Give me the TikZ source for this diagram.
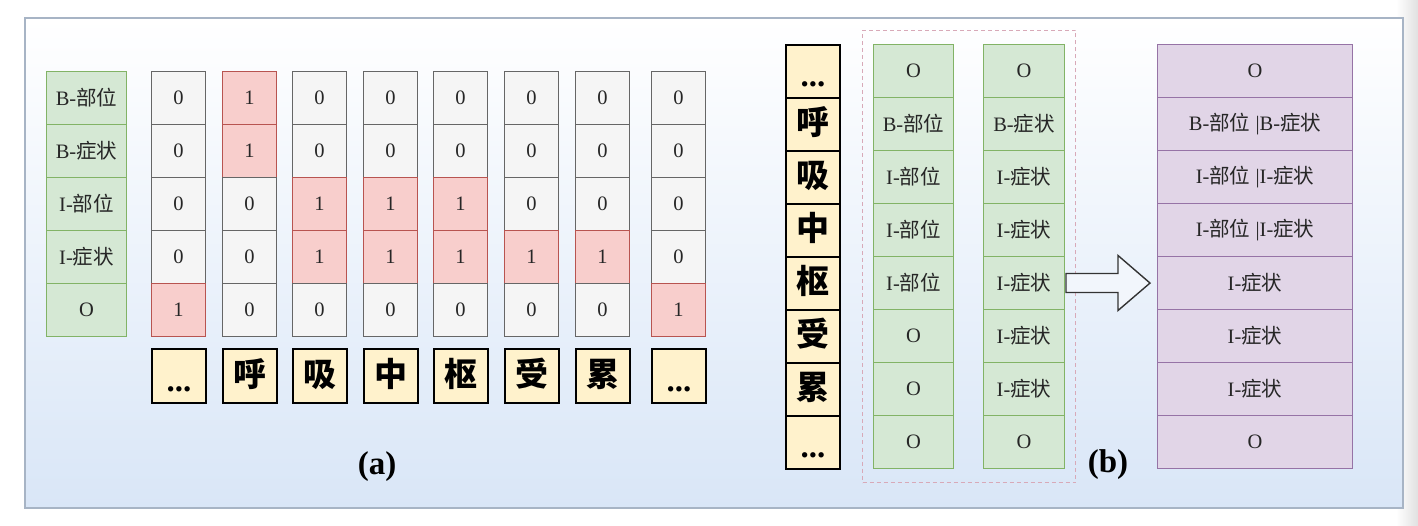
\documentclass[tikz,border=0pt]{standalone}
\usepackage{fontspec}
\setmainfont{Liberation Serif}
\newfontfamily\cjk{Noto Sans CJK SC}
\usetikzlibrary{calc,fit}
\definecolor{gfill}{HTML}{D5E8D4}
\definecolor{gdraw}{HTML}{82B366}
\definecolor{wfill}{HTML}{F5F5F5}
\definecolor{wdraw}{HTML}{666666}
\definecolor{pfill}{HTML}{F8CECC}
\definecolor{pdraw}{HTML}{B85450}
\definecolor{yfill}{HTML}{FFF2CC}
\definecolor{ufill}{HTML}{E1D5E7}
\definecolor{udraw}{HTML}{9673A6}
\definecolor{txt}{HTML}{262626}
\definecolor{dcol}{HTML}{D8A9B8}
\definecolor{frm}{HTML}{A7B4C5}
\definecolor{bgbot}{HTML}{D9E6F7}
\definecolor{afill}{HTML}{F2F6FC}
\newcommand\zh[1]{{\cjk #1}}
\newcommand\dd{\raisebox{-5pt}{\rmfamily\bfseries ...}}
\tikzset{
  cellfont/.style={font=\fontsize{20.5}{22}\selectfont, text=txt},
  lab/.style={cellfont, draw=gdraw, fill=gfill, line width=1, minimum width=80,
    minimum height=53, inner sep=0, anchor=north west},
  cell/.style={cellfont, line width=1.1, minimum width=54, minimum height=53,
    inner sep=0, anchor=north west},
  chbox/.style={draw=black, fill=yfill, line width=1.8, minimum width=54,
    minimum height=54, inner sep=0, anchor=north west, text=black,
    font=\cjk\bfseries\fontsize{33}{33}\selectfont, text height=25pt, text depth=4pt},
  ucell/.style={cellfont, draw=udraw, fill=ufill, line width=1.1, minimum width=195,
    minimum height=53, inner sep=0, anchor=north west},
  caption/.style={font=\bfseries\fontsize{33}{33}\selectfont, text=black},
  arrowst/.style={draw=black!80, fill=afill, line width=1.4, line join=miter}
}
\begin{document}
\begin{tikzpicture}[x=1pt,y=-1pt]
\useasboundingbox (0,0) rectangle (1418,526);
% right grey strip
\shade[left color=white, right color=black!12] (1396,0) rectangle (1418,526);
% frame
\shade[top color=white, bottom color=bgbot] (25,18) rectangle (1403,508);
\draw[frm, line width=1.8] (25,18) rectangle (1403,508);

% ---------- part (a) ----------
\foreach \t [count=\i from 0] in {B-\zh{部位},B-\zh{症状},I-\zh{部位},I-\zh{症状},O}
  \node[lab] (la\i) at (46,71+53*\i) {\t};

\foreach \x/\vals/\ch [count=\c] in {151/{0,0,0,0,1}/\dd, 222/{1,1,0,0,0}/呼,
    292/{0,0,1,1,0}/吸, 363/{0,0,1,1,0}/中, 433/{0,0,1,1,0}/枢,
    504/{0,0,0,1,0}/受, 575/{0,0,0,1,0}/累, 651/{0,0,0,0,1}/\dd}{
  \foreach \v [count=\r from 0] in \vals {
    \ifnum\v=1 \def\cf{pfill}\def\cd{pdraw}\else\def\cf{wfill}\def\cd{wdraw}\fi
    \node[cell, fill=\cf, draw=\cd] (v\c-\r) at (\x,71+53*\r) {\v};
  }
  \node[chbox] (ca\c) at (\x,348) {\ch};
}
\node[caption] (capa) at (377,467) {(a)};

% ---------- part (b) ----------
\foreach \ch [count=\i from 0] in {\dd,呼,吸,中,枢,受,累,\dd}
  \node[chbox, minimum height=53] (cb\i) at (785,44+53*\i) {\ch};

\foreach \t [count=\i from 0] in {O,B-\zh{部位},I-\zh{部位},I-\zh{部位},I-\zh{部位},O,O,O}
  \node[lab] (ga\i) at (873,44+53*\i) {\t};
\foreach \t [count=\i from 0] in {O,B-\zh{症状},I-\zh{症状},I-\zh{症状},I-\zh{症状},I-\zh{症状},I-\zh{症状},O}
  \node[lab, minimum width=81] (gb\i) at (983,44+53*\i) {\t};

\node[draw=dcol, line width=1.2, dash pattern=on 4pt off 3pt, inner xsep=10.5, inner ysep=13.5,
  fit=(ga0) (gb7)] (sel) {};

\foreach \t [count=\i from 0] in {O,B-\zh{部位} |B-\zh{症状},I-\zh{部位} |I-\zh{症状},
    I-\zh{部位} |I-\zh{症状},I-\zh{症状},I-\zh{症状},I-\zh{症状},O}
  \node[ucell] (u\i) at (1157,44+53*\i) {\t};

% hollow arrow from the label columns to the merged column
\coordinate (as) at (gb4.east);
\coordinate (at) at ($(u4.west)+(-7,0)$);
\draw[arrowst] ($(as)+(1,-9.5)$) -- ($(as)+(53,-9.5)$) -- ($(as)+(53,-27.5)$)
  -- (at) -- ($(as)+(53,27.5)$) -- ($(as)+(53,9.5)$) -- ($(as)+(1,9.5)$) -- cycle;

\node[caption] (capb) at (1108,465) {(b)};
\end{tikzpicture}
\end{document}
